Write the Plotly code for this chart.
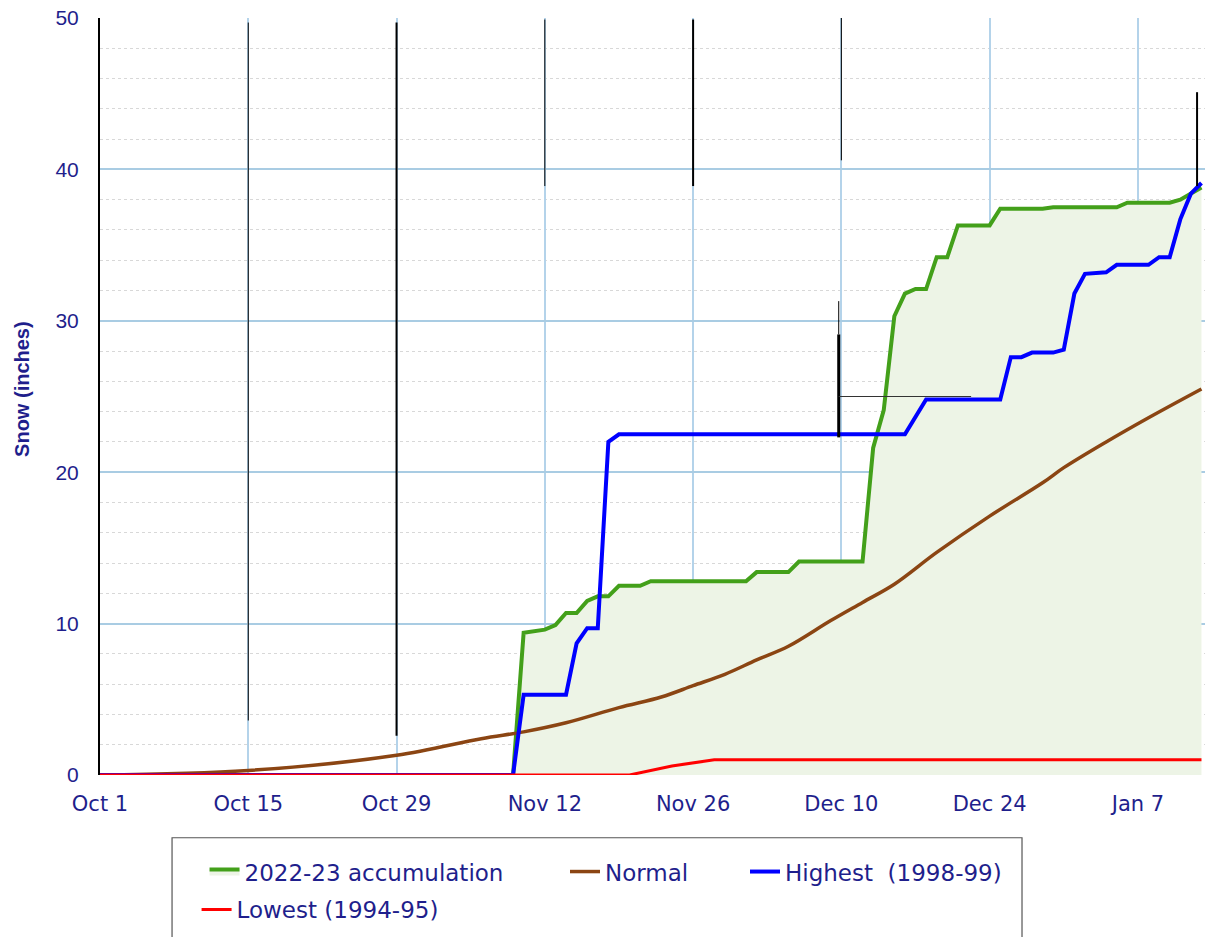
import plotly.graph_objects as go

# ---- data ----
season_dates = ["2022-10-01", "2022-11-09", "2022-11-10", "2022-11-12", "2022-11-13", "2022-11-14",
                "2022-11-15", "2022-11-16", "2022-11-17", "2022-11-18", "2022-11-19", "2022-11-21",
                "2022-11-22", "2022-12-01", "2022-12-02", "2022-12-05", "2022-12-06", "2022-12-12",
                "2022-12-13", "2022-12-14", "2022-12-15", "2022-12-16", "2022-12-17", "2022-12-18",
                "2022-12-19", "2022-12-20", "2022-12-21", "2022-12-24", "2022-12-25", "2022-12-29",
                "2022-12-30", "2023-01-05", "2023-01-06", "2023-01-10", "2023-01-11", "2023-01-13"]
season_vals = [0, 0, 9.4, 9.6, 9.9, 10.7,
               10.7, 11.5, 11.8, 11.8, 12.5, 12.5,
               12.8, 12.8, 13.4, 13.4, 14.1, 14.1,
               21.6, 24.1, 30.3, 31.8, 32.1, 32.1,
               34.2, 34.2, 36.3, 36.3, 37.4, 37.4,
               37.5, 37.5, 37.8, 37.8, 38.0, 38.8]

normal_dates = ["2022-10-01", "2022-10-15", "2022-10-29", "2022-11-06", "2022-11-10", "2022-11-14",
                "2022-11-19", "2022-11-23", "2022-11-26", "2022-11-29", "2022-12-02", "2022-12-05",
                "2022-12-09", "2022-12-12", "2022-12-15", "2022-12-19", "2022-12-24", "2022-12-29",
                "2022-12-31", "2023-01-04", "2023-01-08", "2023-01-13"]
normal_vals = [0, 0.3, 1.3, 2.4, 2.85, 3.45,
               4.45, 5.15, 5.9, 6.65, 7.6, 8.5,
               10.2, 11.4, 12.6, 14.7, 17.1, 19.3,
               20.3, 22.0, 23.6, 25.5]

highest_dates = ["2022-10-01", "2022-11-09", "2022-11-10", "2022-11-14", "2022-11-15", "2022-11-16",
                 "2022-11-17", "2022-11-18", "2022-11-19", "2022-12-16", "2022-12-18", "2022-12-25",
                 "2022-12-26", "2022-12-27", "2022-12-28", "2022-12-30", "2022-12-31", "2023-01-01",
                 "2023-01-02", "2023-01-04", "2023-01-05", "2023-01-08", "2023-01-09", "2023-01-10",
                 "2023-01-11", "2023-01-12", "2023-01-13"]
highest_vals = [0, 0, 5.3, 5.3, 8.7, 9.7,
                9.7, 22.0, 22.5, 22.5, 24.8, 24.8,
                27.6, 27.6, 27.9, 27.9, 28.1, 31.8,
                33.1, 33.2, 33.7, 33.7, 34.2, 34.2,
                36.7, 38.4, 39.1]

lowest_dates = ["2022-10-01", "2022-11-20", "2022-11-24", "2022-11-28", "2023-01-13"]
lowest_vals = [0, 0, 0.6, 1.0, 1.0]

tick_dates = ["2022-10-01", "2022-10-15", "2022-10-29", "2022-11-12", "2022-11-26",
              "2022-12-10", "2022-12-24", "2023-01-07"]
tick_labels = ["Oct 1", "Oct 15", "Oct 29", "Nov 12", "Nov 26", "Dec 10", "Dec 24", "Jan 7"]
y_ticks = [0, 10, 20, 30, 40, 50]

NAVY = "#1f1f8c"
SANS = "DejaVu Sans, sans-serif"
ARIAL = "Liberation Sans, Arial, sans-serif"

fig = go.Figure()
fig.add_trace(go.Scatter(x=season_dates, y=season_vals, name="2022-23 accumulation",
                         mode="lines", line=dict(color="#43a01a", width=4),
                         fill="tozeroy", fillcolor="#edf4e6", legend="legend"))
fig.add_trace(go.Scatter(x=normal_dates, y=normal_vals, name="Normal", mode="lines",
                         line=dict(color="#8b4513", width=3.5, shape="spline"), legend="legend2"))
fig.add_trace(go.Scatter(x=highest_dates, y=highest_vals, name="Highest  (1998-99)", mode="lines",
                         line=dict(color="#0000ff", width=4), legend="legend3"))
fig.add_trace(go.Scatter(x=lowest_dates, y=lowest_vals, name="Lowest (1994-95)", mode="lines",
                         line=dict(color="#ff0000", width=3), legend="legend4"))

# decorative black rules seen in the reference
black_rules = [
    ("2022-10-15", 3.6, 49.7, 1), ("2022-10-29", 2.6, 49.7, 2),
    ("2022-11-12", 38.9, 49.9, 1), ("2022-11-26", 38.9, 49.9, 2),
    ("2022-12-10", 40.6, 50.0, 1), ("2023-01-12 14:00", 38.9, 45.1, 2),
    ("2022-12-09 18:00", 22.3, 29.1, 3), ("2022-12-09 18:00", 29.1, 31.3, 1),
]
for xd, y0, y1, w in black_rules:
    fig.add_shape(type="line", xref="x", yref="y", x0=xd, x1=xd, y0=y0, y1=y1,
                  line=dict(color="black", width=w))
fig.add_shape(type="line", xref="x", yref="y", x0="2022-12-09 18:00", x1="2022-12-22 06:00",
              y0=25.0, y1=25.0, line=dict(color="#333", width=1))
fig.add_shape(type="line", xref="x", yref="y", x0="2022-11-29", x1="2023-01-13 08:00",
              y0=50.1, y1=50.1, line=dict(color="black", width=2.5))

# legend frame
fig.add_shape(type="rect", xref="paper", yref="paper", x0=0.0652, x1=0.8344, y0=-0.0829, y1=-0.25,
              line=dict(color="#555555", width=1.2), fillcolor="rgba(0,0,0,0)")

fig.add_annotation(text="<b>Snow (inches)</b>", textangle=-90, xref="paper", yref="paper",
                   x=-0.0706, y=0.51, xanchor="center", yanchor="middle", showarrow=False,
                   font=dict(family=ARIAL, size=20, color=NAVY))

leg_common = dict(orientation="h", xanchor="left", yanchor="middle", bgcolor="rgba(0,0,0,0)",
                  borderwidth=0, font=dict(family=SANS, size=23, color=NAVY), itemwidth=30)

fig.update_layout(
    width=1211, height=937,
    margin=dict(l=100, r=6, t=15, b=162),
    paper_bgcolor="white", plot_bgcolor="white",
    font=dict(family=SANS, color=NAVY),
    showlegend=True,
    legend=dict(x=0.0946, y=-0.1276, **leg_common),
    legend2=dict(x=0.4208, y=-0.1276, **leg_common),
    legend3=dict(x=0.5837, y=-0.1276, **leg_common),
    legend4=dict(x=0.0874, y=-0.1776, **leg_common),
)
fig.update_xaxes(type="date", range=["2022-10-01", "2023-01-13 08:00"],
                 tickvals=tick_dates, ticktext=tick_labels,
                 tickfont=dict(family=SANS, size=21, color=NAVY),
                 showgrid=True, gridcolor="#b4d3ea", gridwidth=1.5,
                 showline=False, zeroline=False, ticks="", ticklabelstandoff=14)
fig.update_yaxes(range=[0, 50], tickvals=y_ticks,
                 tickfont=dict(family=ARIAL, size=21, color=NAVY),
                 showgrid=True, gridcolor="#a9cce3", gridwidth=1.5,
                 minor=dict(dtick=2, showgrid=True, gridcolor="#d8d8d8", griddash="dot", gridwidth=1),
                 showline=True, linecolor="black", linewidth=2,
                 zeroline=False, ticks="", ticklabelstandoff=15)

fig.write_html("out.html", config={"displayModeBar": False},
               post_script="document.body.style.margin='0';document.body.style.overflow='hidden';")
